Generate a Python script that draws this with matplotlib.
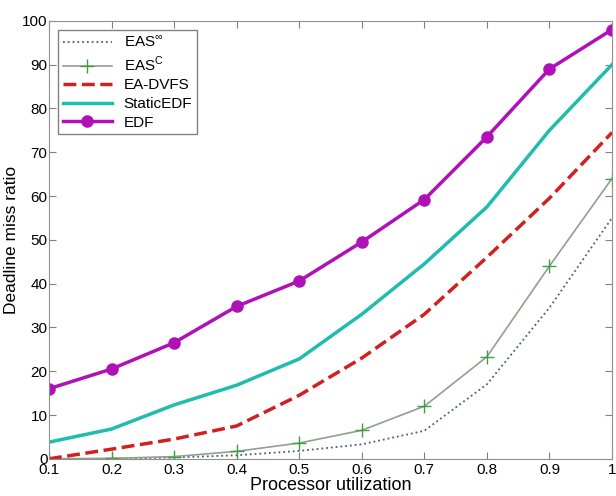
import numpy as np
import matplotlib.pyplot as plt

plt.rcParams['font.family'] = ['Liberation Sans', 'DejaVu Sans']
plt.rcParams['mathtext.fontset'] = 'custom'
plt.rcParams['mathtext.rm'] = 'Liberation Sans'

util = [0.1, 0.2, 0.3, 0.4, 0.5, 0.6, 0.7, 0.8, 0.9, 1.0]
eas_inf = [0, 0, 0.3, 0.8, 1.8, 3.3, 6.4, 17, 34.5, 55]
eas_c = [0, 0.1, 0.5, 1.7, 3.6, 6.5, 12, 23.3, 44, 64]
ea_dvfs = [0, 2.2, 4.5, 7.5, 14.5, 23, 33, 46, 59.5, 74.5]
static_edf = [3.8, 6.8, 12.3, 16.8, 22.8, 33, 44.5, 57.5, 75, 90]
edf = [16, 20.5, 26.5, 34.8, 40.6, 49.5, 59.2, 73.5, 89, 98]

fig = plt.figure(figsize=(6.16, 4.96), dpi=100)
ax = fig.add_axes([0.0795, 0.075, 0.914, 0.883])

ax.plot(util, eas_inf, ':', color='#505a80', lw=1.3, label=r'EAS$^{\infty}$')
ax.plot(util, eas_c, '-', color='#90a090', lw=1.2, marker='+', ms=10,
        mec='#40a040', mew=1.0, label=r'EAS$^{\mathrm{C}}$')
ax.plot(util, ea_dvfs, '--', color='#d02020', lw=2.5, label='EA-DVFS')
ax.plot(util, static_edf, '-', color='#20bcb0', lw=2.5, label='StaticEDF')
ax.plot(util, edf, '-', color='#b010b8', lw=2.5, marker='o', ms=8,
        label='EDF')

ax.set_xlim(0.1, 1.0)
ax.set_ylim(0, 100)
ax.set_xticks(util)
ax.set_xticklabels(['0.1', '0.2', '0.3', '0.4', '0.5', '0.6', '0.7', '0.8', '0.9', '1'])
ax.set_yticks(np.arange(0, 101, 10))
ax.tick_params(direction='in', top=True, right=True, labelsize=11, length=5,
               color='#808080')
ax.tick_params(axis='x', pad=3)
ax.tick_params(axis='y', pad=1)
for s in ax.spines.values():
    s.set_color('#909090')
ax.set_xlabel('Processor utilization', fontsize=13, labelpad=0)
ax.set_ylabel('Deadline miss ratio', fontsize=12.5, labelpad=2)

leg = ax.legend(loc='upper left', fontsize=11, frameon=True, fancybox=False,
                edgecolor='#606060', borderaxespad=0.6, handlelength=3.2,
                labelspacing=0.3, borderpad=0.3)
leg.get_frame().set_linewidth(1.0)

fig.savefig('out.png', dpi=100)
